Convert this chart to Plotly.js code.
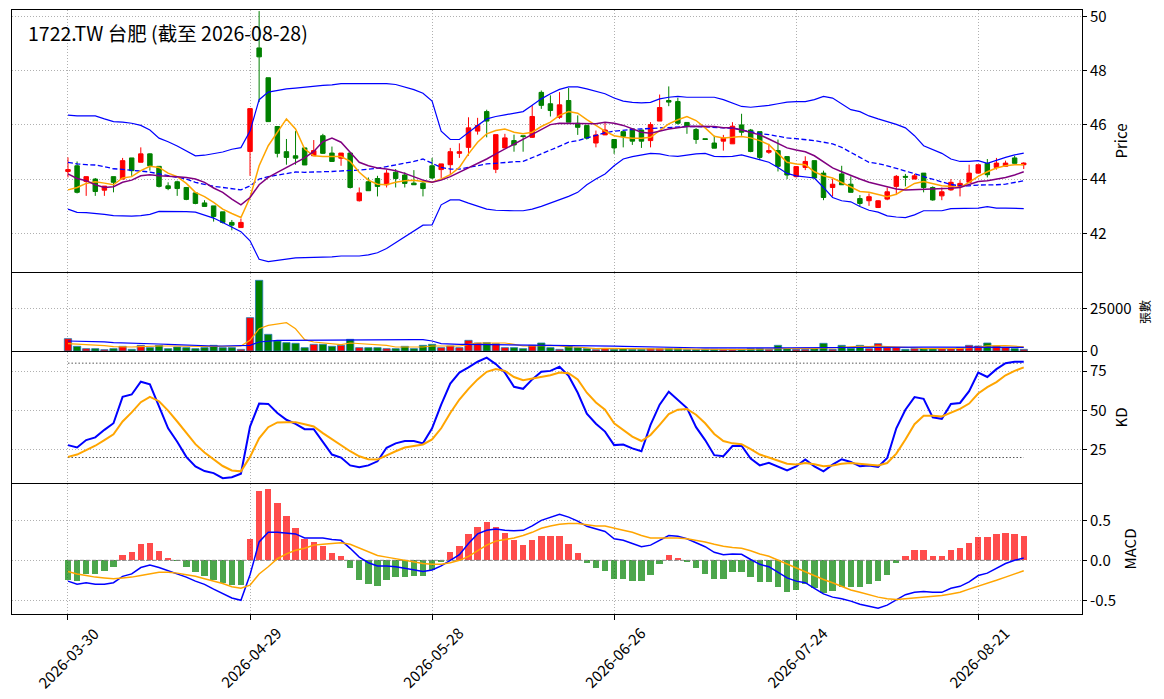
<!DOCTYPE html>
<html><head><meta charset="utf-8">
<script src="https://cdn.plot.ly/plotly-3.0.1.min.js"></script>
<style>html,body{margin:0;padding:0;background:#fff;}#chart{width:1164px;height:699px;}</style>
</head><body><div id="chart"></div>
<script>
const dates = ["2026-03-30","2026-03-31","2026-04-01","2026-04-02","2026-04-07","2026-04-08","2026-04-09","2026-04-10","2026-04-13","2026-04-14","2026-04-15","2026-04-16","2026-04-17","2026-04-20","2026-04-21","2026-04-22","2026-04-23","2026-04-24","2026-04-27","2026-04-28","2026-04-29","2026-04-30","2026-05-04","2026-05-05","2026-05-06","2026-05-07","2026-05-08","2026-05-11","2026-05-12","2026-05-13","2026-05-14","2026-05-15","2026-05-18","2026-05-19","2026-05-20","2026-05-21","2026-05-22","2026-05-25","2026-05-26","2026-05-27","2026-05-28","2026-05-29","2026-06-01","2026-06-02","2026-06-03","2026-06-04","2026-06-05","2026-06-08","2026-06-09","2026-06-10","2026-06-11","2026-06-12","2026-06-15","2026-06-16","2026-06-17","2026-06-18","2026-06-22","2026-06-23","2026-06-24","2026-06-25","2026-06-26","2026-06-29","2026-06-30","2026-07-01","2026-07-02","2026-07-03","2026-07-06","2026-07-07","2026-07-08","2026-07-09","2026-07-10","2026-07-13","2026-07-14","2026-07-15","2026-07-16","2026-07-17","2026-07-20","2026-07-21","2026-07-22","2026-07-23","2026-07-24","2026-07-27","2026-07-28","2026-07-29","2026-07-30","2026-07-31","2026-08-03","2026-08-04","2026-08-05","2026-08-06","2026-08-07","2026-08-10","2026-08-11","2026-08-12","2026-08-13","2026-08-14","2026-08-17","2026-08-18","2026-08-19","2026-08-20","2026-08-21","2026-08-24","2026-08-25","2026-08-26","2026-08-27","2026-08-28"];

const tickDates = ["2026-03-30","2026-04-29","2026-05-28","2026-06-26","2026-07-24","2026-08-21"];

const openP = [44.28,44.49,43.91,44.0,43.59,44.09,44.0,44.78,44.62,44.93,
 44.47,43.75,43.9,43.69,43.49,43.12,43.01,42.79,42.40,42.21,
 45.02,48.84,47.74,45.94,45.01,44.86,45.15,44.86,45.6,44.96,
 44.77,44.96,43.2,43.9,44.02,43.79,44.25,44.15,43.85,43.85,
 44.49,44.35,44.53,44.95,45.17,45.77,46.49,44.36,45.15,45.42,
 45.6,45.54,47.2,46.78,46.28,46.9,46.06,45.98,45.33,45.63,
 45.46,45.75,45.85,45.81,45.42,46.14,46.9,46.86,46.09,45.83,
 45.49,45.33,45.4,45.3,46.0,45.81,45.75,44.99,45.05,44.83,
 44.09,44.43,44.68,44.22,43.69,44.19,43.81,43.28,43.2,42.95,
 43.26,43.73,44.1,44.0,44.22,43.69,43.38,43.6,43.72,43.88,
 44.22,44.58,44.43,44.47,44.78,44.53];
const highP = [44.8,44.65,44.09,44.04,43.74,44.09,44.78,44.78,45.17,44.95,
 44.47,43.88,43.94,43.69,43.49,43.22,43.01,42.79,42.49,42.54,
 46.6,50.2,47.74,45.94,45.48,45.77,45.15,45.44,45.67,45.2,
 44.96,44.99,43.69,44.06,44.12,44.35,44.37,44.25,44.33,43.94,
 44.78,44.56,45.15,45.32,46.28,46.26,46.56,45.64,45.67,45.64,
 45.6,46.72,47.27,47.09,47.21,47.36,46.35,45.98,45.79,46.1,
 45.46,45.75,45.85,45.81,46.1,47.12,47.42,47.0,46.09,45.89,
 45.49,45.6,45.63,46.1,46.41,45.85,45.75,45.3,45.46,44.83,
 44.46,44.84,44.68,44.31,44.0,44.49,44.1,43.41,43.47,43.22,
 43.69,44.15,44.19,44.19,44.22,43.73,43.69,44.0,43.96,44.53,
 44.53,44.74,44.78,44.68,44.86,44.62];
const lowP = [44.06,43.47,43.38,43.38,43.38,43.51,44.0,44.12,44.62,44.31,
 43.69,43.59,43.38,43.22,43.07,42.99,42.43,42.36,42.11,42.21,
 44.12,46.84,46.12,44.8,44.53,44.53,44.52,44.86,44.93,44.65,
 44.49,43.65,43.17,43.57,43.36,43.69,43.69,43.69,43.79,43.36,
 44.0,44.04,44.19,44.78,44.86,45.64,45.54,44.22,45.15,45.01,
 45.01,45.52,46.59,46.31,46.22,46.1,45.63,45.46,45.17,45.63,
 44.93,45.17,45.26,45.15,45.17,46.14,46.69,46.01,45.67,45.3,
 45.46,45.14,45.05,45.3,45.6,44.99,44.7,44.93,44.28,44.0,
 44.06,44.33,44.04,43.22,43.36,43.79,43.51,42.99,43.01,42.93,
 43.22,43.41,43.73,44.0,43.51,43.2,43.22,43.57,43.36,43.88,
 44.19,44.06,44.35,44.47,44.58,44.37];
const closeP = [44.35,43.51,44.09,43.54,43.74,43.88,44.68,44.31,44.93,44.49,
 43.73,43.65,43.65,43.25,43.10,42.99,42.62,42.40,42.30,42.40,
 46.6,48.51,46.12,44.95,44.8,44.77,44.52,45.05,44.95,44.65,
 44.96,43.69,43.49,43.57,43.73,44.22,44.02,43.84,43.79,43.65,
 44.04,44.56,45.01,45.01,45.89,45.98,46.14,45.64,45.52,45.26,
 45.57,46.31,46.72,46.53,46.74,46.1,45.91,45.51,45.63,45.81,
 45.15,45.58,45.4,45.4,46.01,46.64,46.84,46.06,45.94,45.46,
 45.46,45.14,45.51,45.95,45.73,45.02,44.8,45.05,44.47,44.15,
 44.46,44.65,44.04,43.32,43.81,43.79,43.51,43.1,43.35,43.2,
 43.53,44.1,44.07,44.12,43.69,43.23,43.53,43.88,43.84,44.22,
 44.53,44.16,44.59,44.59,44.58,44.59];

const ma5 = [43.6,43.69,43.84,43.9,43.85,43.79,44.04,44.09,44.31,44.47,
 44.43,44.22,44.09,43.84,43.51,43.35,43.14,42.89,42.73,42.58,
 43.32,44.49,45.23,45.73,46.22,45.85,45.11,44.86,44.83,44.83,
 44.83,44.65,44.25,43.96,43.81,43.79,43.88,43.94,43.96,43.91,
 43.88,44.0,44.16,44.43,44.93,45.36,45.67,45.79,45.85,45.73,
 45.67,45.73,45.94,46.1,46.35,46.49,46.43,46.19,45.98,45.77,
 45.6,45.54,45.51,45.51,45.54,45.79,46.04,46.19,46.31,46.16,
 45.89,45.58,45.52,45.54,45.57,45.52,45.42,45.27,44.93,44.62,
 44.56,44.53,44.27,44.12,44.04,43.88,43.69,43.54,43.51,43.44,
 43.35,43.44,43.63,43.84,43.91,43.84,43.75,43.73,43.69,43.88,
 44.1,44.27,44.41,44.49,44.53,44.53];
const ma10 = [44.19,44.02,43.94,43.79,43.69,43.72,43.88,43.96,44.12,44.16,
 44.12,44.11,44.09,44.06,44.0,43.88,43.67,43.51,43.26,43.05,
 43.32,43.79,44.06,44.25,44.43,44.59,44.78,45.02,45.38,45.51,
 45.36,44.99,44.62,44.49,44.41,44.37,44.31,44.21,44.09,43.96,
 43.88,43.96,44.09,44.25,44.41,44.56,44.74,44.93,45.11,45.3,
 45.48,45.67,45.85,46.01,46.06,46.06,46.04,46.06,46.04,46.1,
 46.06,45.98,45.85,45.73,45.69,45.77,45.85,45.89,45.94,45.95,
 45.94,45.94,45.89,45.89,45.81,45.73,45.63,45.48,45.3,45.15,
 45.07,45.01,44.86,44.62,44.41,44.27,44.12,44.0,43.88,43.8,
 43.73,43.63,43.6,43.61,43.63,43.63,43.63,43.66,43.69,43.81,
 43.91,43.94,44.0,44.06,44.15,44.27];
const ma20 = [44.62,44.56,44.53,44.52,44.46,44.38,44.36,44.33,44.31,44.26,
 44.19,44.12,44.06,44.0,43.88,43.81,43.73,43.69,43.65,43.6,
 43.75,44.0,44.09,44.15,44.21,44.26,44.25,44.27,44.27,44.28,
 44.31,44.32,44.33,44.36,44.4,44.46,44.52,44.58,44.65,44.74,
 44.59,44.43,44.37,44.37,44.43,44.49,44.56,44.58,44.62,44.64,
 44.65,44.8,44.93,45.07,45.23,45.36,45.42,45.51,45.62,45.71,
 45.77,45.81,45.83,45.85,45.87,45.89,45.91,45.94,45.94,45.94,
 45.92,45.89,45.89,45.88,45.81,45.73,45.68,45.64,45.58,45.52,
 45.49,45.46,45.42,45.36,45.3,45.17,45.0,44.8,44.62,44.57,
 44.49,44.4,44.31,44.2,44.09,43.99,43.88,43.8,43.75,43.75,
 43.78,43.78,43.79,43.81,43.87,43.94];
const bbUpper = [46.36,46.33,46.33,46.33,46.22,46.12,46.1,46.06,45.98,45.81,
 45.51,45.38,45.22,45.05,44.86,44.88,44.93,45.0,45.1,45.16,
 45.77,46.93,47.21,47.27,47.33,47.36,47.4,47.44,47.46,47.48,
 47.52,47.52,47.52,47.52,47.52,47.52,47.49,47.4,47.3,47.17,
 46.88,45.77,45.46,45.46,45.73,45.98,46.22,46.31,46.37,46.43,
 46.49,46.72,46.96,47.15,47.31,47.4,47.4,47.33,47.24,47.15,
 46.99,46.88,46.83,46.81,46.83,46.96,47.02,47.05,47.02,47.02,
 47.02,47.02,46.93,46.81,46.68,46.65,46.68,46.72,46.78,46.84,
 46.86,46.86,46.93,47.05,46.99,46.78,46.56,46.49,46.33,46.22,
 46.12,46.02,45.89,45.6,45.23,45.09,44.95,44.74,44.65,44.65,
 44.68,44.58,44.7,44.8,44.89,44.96];
const bbLower = [42.89,42.77,42.76,42.74,42.7,42.65,42.63,42.63,42.65,42.7,
 42.81,42.81,42.81,42.8,42.78,42.68,42.56,42.4,42.23,42.06,
 41.72,41.04,40.95,41.0,41.05,41.09,41.1,41.11,41.11,41.13,
 41.16,41.16,41.16,41.2,41.28,41.44,41.65,41.86,42.09,42.3,
 42.31,43.05,43.23,43.23,43.11,42.99,42.89,42.85,42.83,42.83,
 42.83,42.89,42.99,43.11,43.23,43.36,43.51,43.79,44.0,44.19,
 44.49,44.74,44.83,44.9,44.95,44.93,44.86,44.84,44.89,44.93,
 44.95,44.84,44.83,44.84,44.89,44.8,44.7,44.62,44.43,44.21,
 44.12,44.09,44.04,43.69,43.32,43.2,43.16,42.99,42.85,42.78,
 42.64,42.6,42.58,42.68,42.83,42.83,42.83,42.91,42.92,42.93,
 42.93,42.98,42.93,42.93,42.92,42.91];

const volume = [7227,2734,1367,1367,781,1367,2734,977,3320,1953,
 3320,1367,2344,1953,1367,1953,3320,1953,1953,977,
 19531,41406,9766,5859,4883,4492,1953,3906,3906,2734,
 3320,6836,1953,1953,1953,1367,1367,2734,1367,3320,
 3906,1953,2930,1953,6250,4688,4883,4297,1953,1953,
 1367,3320,4688,1953,977,2930,1953,1367,781,1367,
 977,1367,977,977,1367,1367,1562,1367,781,781,
 977,977,977,977,977,1367,1367,977,3320,1367,
 977,977,1367,4492,977,3320,1562,3320,1367,4297,
 1953,2000,977,1367,1367,1367,1367,1367,1953,3320,
 2930,4688,2930,1953,1367,977];
const volMa5 = [4297,4100,3900,3711,3200,2540,2344,2344,2600,2930,
 2930,2930,2800,2734,2734,2734,2734,2734,2800,2930,
 6250,13086,15039,15625,16602,13000,6641,5273,4688,4297,
 3711,4688,4297,3906,3906,3320,2344,2344,2344,2344,
 2930,2930,2930,2930,3906,4688,4688,4883,4688,3906,
 2930,2930,3320,3320,2930,2344,2344,1953,1367,1500,
 1400,1300,1250,1150,1150,1200,1300,1400,1300,1150,
 1000,900,900,950,950,1050,1150,1150,1600,1700,
 1600,1600,1400,1900,1850,2200,2200,2700,2550,2800,
 2600,2500,2200,1900,1400,1400,1350,1400,1500,1900,
 2100,3000,3200,3100,2800,2400];
const volMa20 = [5859,5800,5700,5664,5300,4883,4800,4688,4500,4297,
 4100,3906,3700,3320,3100,2930,2930,2930,2930,2930,
 3320,5273,5859,6250,6250,6300,6350,6400,6445,6640,
 6640,6640,6640,6640,6640,6640,6640,6640,6640,6640,
 5859,4297,3906,3906,3906,3850,3800,3780,3750,3720,
 3700,3650,3600,3550,3500,3450,3400,3350,3320,3100,
 2900,2700,2550,2400,2300,2200,2100,2050,1953,1900,
 1850,1800,1758,1758,1758,1758,1758,1800,1850,1900,
 1950,2000,2050,2150,2200,2250,2300,2344,2344,2344,
 2344,2344,2344,2344,2300,2300,2300,2250,2250,2250,
 2200,2200,2200,2150,2150,2150];

const kLine = [27.9,26.4,31.1,32.8,37.6,41.8,58.6,60.1,68.2,66.5,
 52.6,38.6,30.0,20.4,14.4,11.4,10.1,6.9,7.5,9.7,
 39.7,54.3,54.1,48.3,44.0,41.4,38.0,38.0,30.0,21.9,
 20.0,15.0,13.9,15.0,17.6,26.2,29.0,30.5,30.5,29.0,
 38.6,53.6,67.0,74.0,77.3,80.9,83.5,79.4,74.0,65.0,
 63.7,69.7,74.5,75.1,77.7,71.9,61.2,47.9,41.5,36.5,
 27.9,28.3,25.8,24.0,40.8,53.6,61.8,56.9,51.5,39.3,
 31.1,21.5,20.8,27.3,27.5,19.3,15.0,16.7,14.4,11.8,
 14.4,18.7,14.4,11.2,15.5,18.9,17.2,14.4,15.0,14.0,
 19.7,38.6,50.4,58.4,57.3,45.5,44.6,54.1,54.7,62.2,
 74.0,71.2,76.2,80.0,80.9,80.9];
const dLine = [20.4,21.9,24.7,27.5,31.1,34.8,42.9,48.7,55.2,58.6,
 55.8,49.8,42.9,35.4,28.5,23.2,18.7,14.6,11.8,11.2,
 20.4,32.2,39.3,42.3,42.5,42.5,41.2,39.7,35.5,31.5,
 27.9,24.0,20.8,18.9,18.7,21.5,24.0,26.4,27.5,28.3,
 31.5,38.6,48.3,56.9,63.7,69.7,74.5,76.2,75.1,71.2,
 69.1,70.2,71.2,72.3,74.0,73.6,69.7,61.2,55.0,50.4,
 41.8,37.6,33.3,30.5,34.3,40.8,47.6,50.4,50.9,47.2,
 41.8,35.0,30.5,29.0,28.5,25.3,21.9,20.0,18.2,16.1,
 15.5,16.5,15.7,14.4,15.0,16.1,16.5,16.1,15.5,15.0,
 16.5,22.5,31.5,41.2,46.6,46.6,46.1,48.7,50.9,54.3,
 60.7,64.8,68.0,72.3,75.1,77.3];

const macdHist = [-0.24,-0.26,-0.17,-0.17,-0.13,-0.08,0.07,0.10,0.20,0.22,
 0.12,0.03,-0.005,-0.08,-0.15,-0.20,-0.24,-0.28,-0.31,-0.31,
 0.27,0.87,0.89,0.72,0.55,0.40,0.27,0.23,0.18,0.09,
 0.06,-0.10,-0.24,-0.30,-0.32,-0.24,-0.21,-0.21,-0.20,-0.20,
 -0.12,-0.02,0.10,0.18,0.33,0.42,0.48,0.42,0.34,0.25,
 0.19,0.25,0.31,0.31,0.31,0.20,0.09,-0.03,-0.10,-0.13,
 -0.23,-0.23,-0.26,-0.26,-0.18,-0.04,0.07,0.03,-0.02,-0.10,
 -0.17,-0.23,-0.23,-0.15,-0.15,-0.21,-0.27,-0.27,-0.33,-0.40,
 -0.37,-0.30,-0.35,-0.41,-0.38,-0.33,-0.33,-0.33,-0.29,-0.26,
 -0.18,-0.03,0.06,0.13,0.13,0.06,0.06,0.13,0.15,0.22,
 0.29,0.29,0.33,0.34,0.33,0.31];
const dif = [-0.26,-0.30,-0.28,-0.30,-0.30,-0.28,-0.20,-0.17,-0.09,-0.06,
 -0.09,-0.13,-0.17,-0.21,-0.26,-0.30,-0.36,-0.42,-0.47,-0.50,
 -0.18,0.23,0.35,0.35,0.34,0.33,0.28,0.28,0.28,0.26,
 0.25,0.15,0.04,-0.03,-0.07,-0.07,-0.08,-0.10,-0.12,-0.14,
 -0.12,-0.07,0.0,0.07,0.21,0.33,0.375,0.39,0.375,0.37,
 0.375,0.43,0.5,0.54,0.575,0.54,0.49,0.425,0.39,0.36,
 0.27,0.25,0.21,0.17,0.19,0.25,0.31,0.30,0.27,0.22,
 0.17,0.10,0.07,0.08,0.075,0.01,-0.05,-0.08,-0.15,-0.22,
 -0.26,-0.28,-0.35,-0.42,-0.46,-0.48,-0.51,-0.55,-0.575,-0.60,
 -0.56,-0.50,-0.43,-0.40,-0.39,-0.40,-0.40,-0.35,-0.325,-0.27,
 -0.19,-0.16,-0.10,-0.04,0.0,0.03];
const dea = [-0.14,-0.17,-0.19,-0.21,-0.22,-0.23,-0.22,-0.21,-0.19,-0.17,
 -0.15,-0.15,-0.16,-0.18,-0.20,-0.23,-0.26,-0.29,-0.33,-0.35,
 -0.31,-0.17,-0.08,0.02,0.08,0.125,0.15,0.19,0.20,0.21,
 0.22,0.20,0.15,0.10,0.06,0.04,0.02,0.0,-0.02,-0.04,
 -0.05,-0.05,-0.03,0.0,0.05,0.125,0.19,0.24,0.26,0.28,
 0.31,0.35,0.40,0.43,0.45,0.46,0.46,0.445,0.43,0.43,
 0.40,0.375,0.35,0.31,0.28,0.28,0.28,0.28,0.27,0.25,
 0.23,0.20,0.175,0.16,0.15,0.12,0.08,0.05,0.0,-0.05,
 -0.10,-0.14,-0.19,-0.24,-0.28,-0.33,-0.37,-0.40,-0.43,-0.46,
 -0.48,-0.49,-0.48,-0.47,-0.46,-0.45,-0.44,-0.42,-0.40,-0.36,
 -0.325,-0.29,-0.25,-0.21,-0.17,-0.13];

const kdLevels = [80, 20];
const titleText = "1722.TW 台肥 (截至 2026-08-28)";

const FONT = "Noto Sans CJK TC, Noto Sans, DejaVu Sans, sans-serif";
const W = 1164, H = 699;
const xl = 12 / W, xr = 1082 / W;
const dom = (top, bot) => [1 - bot / H, 1 - top / H];

const volColors = closeP.map((c, i) => c >= openP[i] ? '#ff0000' : '#008000');
const histColors = macdHist.map(v => v >= 0 ? 'rgba(255,0,0,0.7)' : 'rgba(0,128,0,0.7)');
const ends = [dates[0], dates[dates.length - 1]];

const traces = [
  {type:'candlestick', x:dates, open:openP, high:highP, low:lowP, close:closeP,
   increasing:{line:{color:'#ff0000', width:1}, fillcolor:'#ff0000'},
   decreasing:{line:{color:'#008000', width:1}, fillcolor:'#008000'},
   whiskerwidth:0, hoverinfo:'skip', xaxis:'x', yaxis:'y'},
  {type:'scatter', mode:'lines', x:dates, y:bbUpper, line:{color:'#0000ff', width:1.2}, xaxis:'x', yaxis:'y'},
  {type:'scatter', mode:'lines', x:dates, y:bbLower, line:{color:'#0000ff', width:1.2}, xaxis:'x', yaxis:'y'},
  {type:'scatter', mode:'lines', x:dates, y:ma20, line:{color:'#0000ff', width:1.3, dash:'5px,2.5px'}, xaxis:'x', yaxis:'y'},
  {type:'scatter', mode:'lines', x:dates, y:ma5, line:{color:'#ffa500', width:1.5}, xaxis:'x', yaxis:'y'},
  {type:'scatter', mode:'lines', x:dates, y:ma10, line:{color:'#800080', width:1.5}, xaxis:'x', yaxis:'y'},

  {type:'bar', x:dates, y:volume, width:0.8, marker:{color:volColors, line:{color:'#1f77b4', width:0.8}}, xaxis:'x2', yaxis:'y2'},
  {type:'scatter', mode:'lines', x:dates, y:volMa5, line:{color:'#ffa500', width:1.2}, xaxis:'x2', yaxis:'y2'},
  {type:'scatter', mode:'lines', x:dates, y:volMa20, line:{color:'#0000ff', width:1.2}, xaxis:'x2', yaxis:'y2'},

  {type:'scatter', mode:'lines', x:ends, y:[kdLevels[0], kdLevels[0]], line:{color:'#555555', width:1, dash:'1.5px,2px'}, xaxis:'x3', yaxis:'y3'},
  {type:'scatter', mode:'lines', x:ends, y:[kdLevels[1], kdLevels[1]], line:{color:'#555555', width:1, dash:'1.5px,2px'}, xaxis:'x3', yaxis:'y3'},
  {type:'scatter', mode:'lines', x:dates, y:kLine, line:{color:'#0000ff', width:2}, xaxis:'x3', yaxis:'y3'},
  {type:'scatter', mode:'lines', x:dates, y:dLine, line:{color:'#ffa500', width:2}, xaxis:'x3', yaxis:'y3'},

  {type:'bar', x:dates, y:macdHist, width:0.7, marker:{color:histColors, line:{width:0}}, xaxis:'x4', yaxis:'y4'},
  {type:'scatter', mode:'lines', x:ends, y:[0, 0], line:{color:'#808080', width:1, dash:'4px,2px'}, xaxis:'x4', yaxis:'y4'},
  {type:'scatter', mode:'lines', x:dates, y:dif, line:{color:'#0000ff', width:1.5}, xaxis:'x4', yaxis:'y4'},
  {type:'scatter', mode:'lines', x:dates, y:dea, line:{color:'#ffa500', width:1.5}, xaxis:'x4', yaxis:'y4'}
];

const gridC = '#b0b0b0';
const GRIDDASH = '1px,2px';
function xax(anchor, showTicks) {
  return {
    domain:[xl, xr], anchor:anchor, type:'category', categoryorder:'array', categoryarray:dates,
    range:[-6.15, 111.4], tickmode:'array', tickvals:tickDates, ticktext:tickDates,
    showticklabels:false, ticks: showTicks ? 'outside' : '', ticklen:5, tickcolor:'#000',
    showgrid:true, gridcolor:gridC, griddash:GRIDDASH, gridwidth:1,
    showline:true, mirror:true, linecolor:'#000', linewidth:1, zeroline:false,
    rangeslider:{visible:false}, fixedrange:true
  };
}
function yax(domain, range, tickvals, ticktext, title, tsize) {
  return {
    domain:domain, range:range, side:'right', tickmode:'array', tickvals:tickvals, ticktext:ticktext,
    ticks:'outside', ticklen:4, tickcolor:'#000', tickfont:{family:FONT, size:15, color:'#000'},
    showgrid:true, gridcolor:gridC, griddash:GRIDDASH, gridwidth:1,
    showline:true, mirror:true, linecolor:'#000', linewidth:1, zeroline:false,
    title:{text:title, font:{family:FONT, size:tsize, color:'#000'}, standoff:10}, fixedrange:true
  };
}

// rotated, centred date labels under the bottom panel
const dateAnnotations = tickDates.map(d => ({
  text:d, xref:'x4', yref:'paper', x:d, y:1 - 657 / H, xanchor:'center', yanchor:'middle',
  textangle:-45, showarrow:false, font:{family:FONT, size:15, color:'#000'}
}));

const layout = {
  width:W, height:H, margin:{l:0, r:0, t:0, b:0, pad:0},
  paper_bgcolor:'#fff', plot_bgcolor:'#fff', showlegend:false, bargap:0,
  font:{family:FONT, color:'#000'},
  xaxis: xax('y', false),
  xaxis2: Object.assign(xax('y2', false), {matches:'x'}),
  xaxis3: Object.assign(xax('y3', false), {matches:'x'}),
  xaxis4: Object.assign(xax('y4', true), {matches:'x'}),
  yaxis: yax(dom(10, 272), [40.57, 50.24], [42,44,46,48,50], ['42','44','46','48','50'], 'Price', 15),
  yaxis2: yax(dom(273, 351), [0, 45700], [0, 25000], ['0','25000'], '張數', 12),
  yaxis3: yax(dom(352, 483), [3.8, 87.1], [25,50,75], ['25','50','75'], 'KD', 15),
  yaxis4: yax(dom(484, 614), [-0.671, 0.954], [-0.5, 0, 0.5], ['-0.5','0.0','0.5'], 'MACD', 15),
  annotations:[{text:titleText, xref:'paper', yref:'paper', x:26/W, y:1-32/H, xanchor:'left', yanchor:'middle',
    showarrow:false, font:{family:FONT, size:19.5, color:'#000'}}].concat(dateAnnotations)
};

Plotly.newPlot('chart', traces, layout, {staticPlot:true, displayModeBar:false});
</script></body></html>
